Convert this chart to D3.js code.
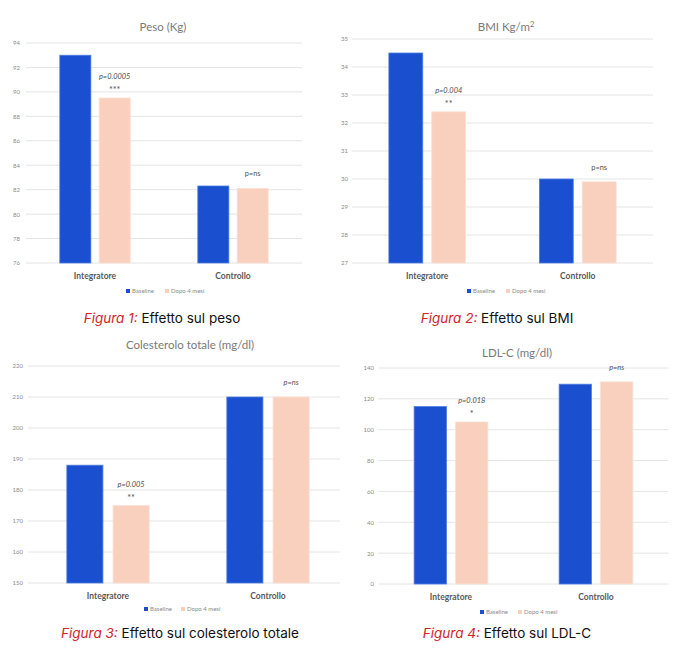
<!DOCTYPE html>
<html>
<head>
<meta charset="utf-8">
<script src="https://cdn.jsdelivr.net/npm/d3@7"></script>
<style>
  body { margin: 0; background: #fff; }
  svg { display: block; }
</style>
</head>
<body>
<svg width="685" height="653"></svg>
<script>
// data
const groups = ['Integratore', 'Controllo'];
const series = ['Baseline', 'Dopo 4 mesi'];

const pesoBaseline = [93, 82.3];
const pesoDopo = [89.5, 82.1];
const pesoTicks = [76, 78, 80, 82, 84, 86, 88, 90, 92, 94];
const pesoP = ['p=0.0005', 'p=ns'];
const pesoStars = ['***', ''];

const bmiBaseline = [34.5, 30.0];
const bmiDopo = [32.4, 29.9];
const bmiTicks = [27, 28, 29, 30, 31, 32, 33, 34, 35];
const bmiP = ['p=0.004', 'p=ns'];
const bmiStars = ['**', ''];

const colBaseline = [188, 210];
const colDopo = [175, 210];
const colTicks = [150, 160, 170, 180, 190, 200, 210, 220];
const colP = ['p=0.005', 'p=ns'];
const colStars = ['**', ''];

const ldlBaseline = [115, 129.5];
const ldlDopo = [105, 131];
const ldlTicks = [0, 20, 40, 60, 80, 100, 120, 140];
const ldlP = ['p=0.018', 'p=ns'];
const ldlStars = ['*', ''];

const colors = ['#1a4fcf', '#f9cfbd'];
const strokes = ['#4d7de3', '#fbe0d4'];

const svg = d3.select('svg');
const uiFont = 'Lato, "Open Sans", sans-serif';
const capFont = 'Inter, "Noto Sans", sans-serif';

const drawChart = (c) => {
  const g = svg.append('g');
  if (c.clip) {
    const id = 'clip' + c.n;
    svg.append('clipPath').attr('id', id)
      .append('rect').attr('x', c.clip[0]).attr('y', c.clip[1]).attr('width', c.clip[2]).attr('height', c.clip[3]);
    g.attr('clip-path', `url(#${id})`);
  }

  const y = d3.scaleLinear()
    .domain(d3.extent(c.ticks))
    .range([c.bottom, c.top]);
  const x0 = d3.scaleBand().domain(groups).range([c.left, c.right]);
  const x1 = d3.scaleBand().domain(series)
    .range([0, x0.bandwidth()])
    .paddingInner(c.gap)
    .paddingOuter(c.outer);

  // gridlines
  g.selectAll('.grid')
    .data(c.ticks)
    .enter().append('line')
    .attr('x1', c.left).attr('x2', c.gridRight || c.right)
    .attr('y1', d => y(d)).attr('y2', d => y(d))
    .attr('stroke', '#e4e4e4').attr('stroke-width', 1);

  // y axis labels
  const yAxis = g.append('g')
    .attr('transform', `translate(${c.labelX},0)`)
    .call(d3.axisLeft(y).tickValues(c.ticks).tickSize(0).tickPadding(0));
  yAxis.select('.domain').remove();
  yAxis.selectAll('text')
    .attr('font-family', uiFont).attr('font-size', 6).attr('fill', '#8a8a8a');

  const rows = groups.map((gr, i) => ({ group: gr, vals: [c.base[i], c.after[i]], p: c.p[i], stars: c.stars[i] }));

  const grp = g.selectAll('.grp')
    .data(rows)
    .enter().append('g')
    .attr('transform', d => `translate(${x0(d.group)},0)`);

  grp.selectAll('rect')
    .data(d => d.vals.map((v, j) => ({ s: series[j], v: v, j: j })))
    .enter().append('rect')
    .attr('x', d => x1(d.s))
    .attr('y', d => y(d.v))
    .attr('width', x1.bandwidth())
    .attr('height', d => c.bottom - y(d.v))
    .attr('fill', d => colors[d.j])
    .attr('stroke', d => strokes[d.j])
    .attr('stroke-width', 0.8);

  // significance notes over the second bar
  const cx = x1(series[1]) + x1.bandwidth() / 2;
  grp.append('text')
    .attr('x', cx)
    .attr('y', d => y(d.vals[1]) - (d.stars ? 19 : 12))
    .attr('text-anchor', 'middle')
    .attr('font-family', uiFont)
    .attr('font-size', 7.4)
    .attr('font-style', (d, i) => c.italic[i] ? 'italic' : 'normal')
    .attr('fill', '#505050')
    .text(d => d.p);
  grp.append('text')
    .attr('x', cx)
    .attr('y', d => y(d.vals[1]) - 5)
    .attr('text-anchor', 'middle')
    .attr('font-family', uiFont)
    .attr('font-size', 9)
    .attr('fill', '#505050')
    .text(d => d.stars);

  // category labels
  g.selectAll('.cat')
    .data(groups)
    .enter().append('text')
    .attr('x', d => x0(d) + x0.bandwidth() / 2)
    .attr('y', c.bottom + 16)
    .attr('text-anchor', 'middle')
    .attr('font-family', uiFont).attr('font-size', 8.5).attr('font-weight', 'bold')
    .attr('fill', '#595959')
    .text(d => d);

  // title
  const t = svg.append('text')
    .attr('x', c.titleX).attr('y', c.titleY)
    .attr('text-anchor', 'middle')
    .attr('font-family', uiFont).attr('font-size', 11.5)
    .attr('fill', '#7a7a7a');
  t.append('tspan').text(c.title);
  if (c.sup) t.append('tspan').attr('font-size', 7.5).attr('dy', -4).text(c.sup);

  // legend
  const lg = svg.append('g').attr('transform', `translate(${c.legendX},${c.legendY})`);
  const li = lg.selectAll('g')
    .data(series)
    .enter().append('g')
    .attr('transform', (d, i) => `translate(${i * c.legendStep},0)`);
  li.append('rect').attr('x', 0).attr('y', -2).attr('width', 4).attr('height', 4)
    .attr('fill', (d, i) => colors[i]);
  li.append('text').attr('x', 6).attr('y', 2)
    .attr('font-family', uiFont).attr('font-size', 6).attr('fill', '#8a8a8a')
    .text(d => d);

  // caption
  const cap = svg.append('text')
    .attr('x', c.capX).attr('y', c.capY)
    .attr('text-anchor', 'middle')
    .attr('font-family', capFont).attr('font-size', 13.5);
  cap.append('tspan').attr('font-style', 'italic').attr('fill', '#d2232a').text(`Figura ${c.n}:`);
  cap.append('tspan').attr('fill', '#111').text(' ' + c.caption);
};

drawChart({
  n: 1, title: 'Peso (Kg)', caption: 'Effetto sul peso',
  base: pesoBaseline, after: pesoDopo, ticks: pesoTicks, p: pesoP, stars: pesoStars, italic: [true, false],
  left: 26, right: 302, top: 43, bottom: 263, labelX: 20, gap: 0.21, outer: 0.86,
  titleX: 163, titleY: 31, legendX: 126, legendY: 291, legendStep: 39, capX: 162, capY: 323
});

drawChart({
  n: 2, title: 'BMI Kg/m', sup: '2', caption: 'Effetto sul BMI',
  base: bmiBaseline, after: bmiDopo, ticks: bmiTicks, p: bmiP, stars: bmiStars, italic: [true, false],
  left: 352, right: 653, top: 39, bottom: 263, labelX: 348, gap: 0.21, outer: 0.86,
  titleX: 506, titleY: 31, legendX: 467, legendY: 291, legendStep: 39, capX: 497, capY: 323
});

drawChart({
  n: 3, title: 'Colesterolo totale (mg/dl)', caption: 'Effetto sul colesterolo totale',
  base: colBaseline, after: colDopo, ticks: colTicks, p: colP, stars: colStars, italic: [true, true],
  left: 28, right: 348, gridRight: 340, top: 366, bottom: 583, labelX: 23, gap: 0.22, outer: 0.84,
  clip: [0, 330, 340, 323],
  titleX: 190, titleY: 349, legendX: 144, legendY: 609, legendStep: 37, capX: 180, capY: 638
});

drawChart({
  n: 4, title: 'LDL-C (mg/dl)', caption: 'Effetto sul LDL-C',
  base: ldlBaseline, after: ldlDopo, ticks: ldlTicks, p: ldlP, stars: ldlStars, italic: [true, true],
  left: 378.5, right: 668.5, top: 368, bottom: 584, labelX: 374, gap: 0.22, outer: 0.86,
  titleX: 517, titleY: 357, legendX: 480, legendY: 612, legendStep: 38, capX: 507, capY: 638
});
</script>
</body>
</html>
